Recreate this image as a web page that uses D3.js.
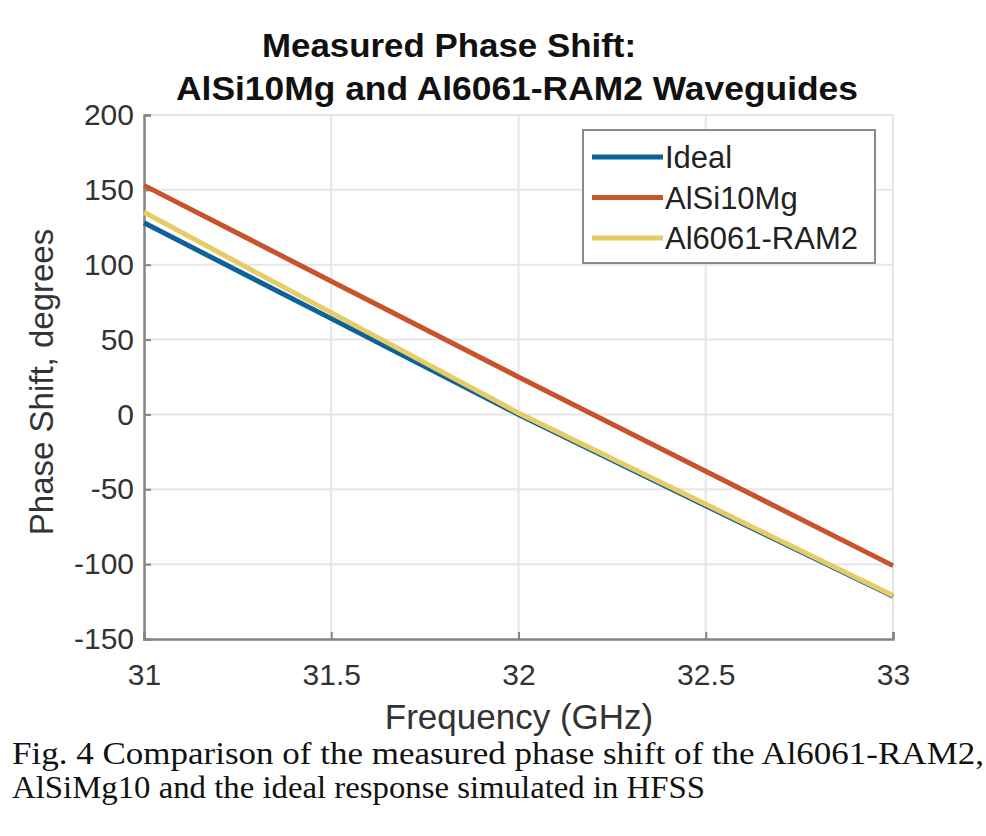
<!DOCTYPE html>
<html>
<head>
<meta charset="utf-8">
<script src="https://cdn.jsdelivr.net/npm/d3@7"></script>
<style>
  body { margin: 0; background: #fff; }
  svg { display: block; }
</style>
</head>
<body>
<div id="chart"></div>
<script>
// values
var freqs = [31, 31.5, 32, 32.5, 33];
var ideal = [128, 64, 0, -61, -121.5];
var alsi10mg = [153, 89, 25, -38, -101];
var al6061 = [135, 68, 1, -60, -121];

var seriesNames = ['Ideal', 'AlSi10Mg', 'Al6061-RAM2'];
var seriesColors = ['#0d6297', '#c9532a', '#e6cb66'];

var xTicks = [31, 31.5, 32, 32.5, 33];
var yTicks = [200, 150, 100, 50, 0, -50, -100, -150];

var W = 986, H = 836;
var plot = { left: 144, right: 893, top: 115, bottom: 639 };

var svg = d3.select('#chart').append('svg')
  .attr('width', W)
  .attr('height', H);

var x = d3.scaleLinear().domain([31, 33]).range([plot.left, plot.right]);
var y = d3.scaleLinear().domain([-150, 200]).range([plot.bottom, plot.top]);

var fontSans = '"Liberation Sans", Arial, sans-serif';
var fontSerif = '"Liberation Serif", "Times New Roman", serif';

// grid
svg.append('g').selectAll('line')
  .data(xTicks.slice(1))
  .enter().append('line')
  .attr('x1', function(d){ return x(d); })
  .attr('x2', function(d){ return x(d); })
  .attr('y1', plot.top).attr('y2', plot.bottom)
  .attr('stroke', '#e6e6e6').attr('stroke-width', 2);

svg.append('g').selectAll('line')
  .data(yTicks.slice(0, -1))
  .enter().append('line')
  .attr('y1', function(d){ return y(d); })
  .attr('y2', function(d){ return y(d); })
  .attr('x1', plot.left).attr('x2', plot.right)
  .attr('stroke', '#e6e6e6').attr('stroke-width', 2);

// axes (plain hyphen for negatives, like the original)
var fmt = function(d){ return String(d); };

var xAxis = svg.append('g')
  .attr('transform', 'translate(0,' + plot.bottom + ')')
  .call(d3.axisBottom(x).tickValues(xTicks).tickSize(-7).tickPadding(25).tickFormat(fmt));

var yAxis = svg.append('g')
  .attr('transform', 'translate(' + plot.left + ',0)')
  .call(d3.axisLeft(y).tickValues(yTicks).tickSize(-7).tickPadding(10).tickFormat(fmt));

[xAxis, yAxis].forEach(function(a){
  a.select('.domain').attr('stroke', '#858585').attr('stroke-width', 2.5);
  a.selectAll('.tick line').attr('stroke', '#858585').attr('stroke-width', 2);
  a.selectAll('.tick text')
    .attr('fill', '#333')
    .style('font-family', fontSans)
    .style('font-size', '30px');
});

// lines
var line = d3.line()
  .x(function(d){ return x(d[0]); })
  .y(function(d){ return y(d[1]); });

[ideal, alsi10mg, al6061].forEach(function(vals, i){
  svg.append('path')
    .datum(freqs.map(function(f, j){ return [f, vals[j]]; }))
    .attr('d', line)
    .attr('fill', 'none')
    .attr('stroke', seriesColors[i])
    .attr('stroke-width', 5);
});

// legend
var legend = svg.append('g').attr('transform', 'translate(583,130)');
legend.append('rect')
  .attr('width', 292).attr('height', 133)
  .attr('fill', '#fff')
  .attr('stroke', '#8a8a8a').attr('stroke-width', 2);

seriesNames.forEach(function(name, i){
  var ly = 27 + i * 40.5;
  legend.append('line')
    .attr('x1', 9).attr('x2', 80)
    .attr('y1', ly).attr('y2', ly)
    .attr('stroke', seriesColors[i]).attr('stroke-width', 5);
  legend.append('text')
    .attr('x', 82).attr('y', ly + 11)
    .attr('fill', '#222')
    .style('font-family', fontSans)
    .style('font-size', '31px')
    .text(name);
});

// title
svg.append('text')
  .attr('x', 262).attr('y', 57)
  .attr('textLength', 374).attr('lengthAdjust', 'spacingAndGlyphs')
  .style('font-family', fontSans).style('font-weight', 'bold')
  .style('font-size', '34px').attr('fill', '#111')
  .text('Measured Phase Shift:');
svg.append('text')
  .attr('x', 176).attr('y', 100)
  .attr('textLength', 682).attr('lengthAdjust', 'spacingAndGlyphs')
  .style('font-family', fontSans).style('font-weight', 'bold')
  .style('font-size', '34px').attr('fill', '#111')
  .text('AlSi10Mg and Al6061-RAM2 Waveguides');

// axis labels
svg.append('text')
  .attr('x', 519).attr('y', 729)
  .attr('text-anchor', 'middle')
  .style('font-family', fontSans).style('font-size', '35px')
  .attr('fill', '#333')
  .text('Frequency (GHz)');

svg.append('text')
  .attr('transform', 'translate(53,382) rotate(-90)')
  .attr('text-anchor', 'middle')
  .style('font-family', fontSans).style('font-size', '33px')
  .attr('fill', '#333')
  .text('Phase Shift, degrees');

// caption
svg.append('text')
  .attr('x', 12).attr('y', 764)
  .attr('textLength', 972).attr('lengthAdjust', 'spacingAndGlyphs')
  .style('font-family', fontSerif).style('font-size', '32px')
  .attr('fill', '#111')
  .text('Fig. 4 Comparison of the measured phase shift of the Al6061-RAM2,');
svg.append('text')
  .attr('x', 12).attr('y', 798)
  .attr('textLength', 693).attr('lengthAdjust', 'spacingAndGlyphs')
  .style('font-family', fontSerif).style('font-size', '32px')
  .attr('fill', '#111')
  .text('AlSiMg10 and the ideal response simulated in HFSS');
</script>
</body>
</html>
